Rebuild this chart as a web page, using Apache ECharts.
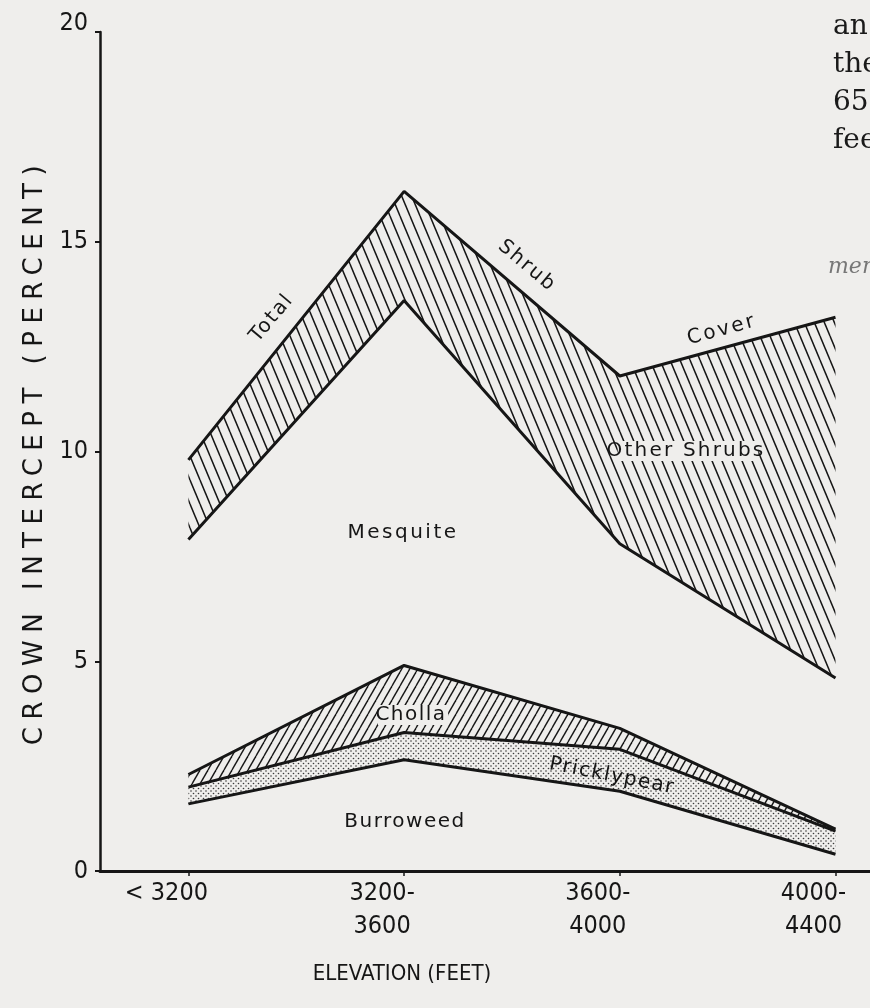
<!DOCTYPE html>
<html>
<head>
<meta charset="utf-8">
<script src="https://cdn.jsdelivr.net/npm/echarts@6/dist/echarts.min.js"></script>
<style>
  html, body { margin: 0; padding: 0; background: #efeeec; }
  #chart { width: 870px; height: 1008px; }
</style>
</head>
<body>
<div id="chart"></div>
<script>
// ---- data ----
const categories = ['< 3200', '3200-\n3600', '3600-\n4000', '4000-\n4400'];
const totalShrub = [9.8, 16.2, 11.8, 13.2];
const mesquite = [7.9, 13.6, 7.8, 4.6];
const cholla = [2.3, 4.9, 3.4, 1.0];
const pricklypear = [2.0, 3.3, 2.9, 0.95];
const burroweed = [1.6, 2.65, 1.9, 0.4];
const yTicks = [0, 5, 10, 15, 20];

const BG = '#efeeec';
const INK = '#161616';

// letter spacing for selected texts (canvas letterSpacing)
const SPACING = {
  'CROWN INTERCEPT (PERCENT)': 7.5,
  'Mesquite': 2.5,
  'Burroweed': 1.5,
  'Other Shrubs': 2.2,
  'Cholla': 1.5,
  'Pricklypear': 1.5,
  'Total': 2,
  'Shrub': 2,
  'Cover': 2.5
};
(function () {
  const proto = CanvasRenderingContext2D.prototype;
  const orig = proto.fillText;
  proto.fillText = function (t, x, y, m) {
    if ('letterSpacing' in this) {
      const s = SPACING[t] || 0;
      const f = this.font;
      this.letterSpacing = s + 'px';
      this.font = f;
      orig.apply(this, arguments);
      this.letterSpacing = '0px';
      this.font = f;
    } else {
      orig.apply(this, arguments);
    }
  };
})();

function hatch(w, h, dir, lw) {
  const c = document.createElement('canvas');
  c.width = w; c.height = h;
  const g = c.getContext('2d');
  g.fillStyle = BG; g.fillRect(0, 0, w, h);
  g.strokeStyle = INK; g.lineWidth = lw; g.lineCap = 'butt';
  for (const k of [-1, 0, 1]) {
    g.beginPath();
    if (dir === '\\') { g.moveTo(k * w, 0); g.lineTo(k * w + w, h); }
    else { g.moveTo(k * w, h); g.lineTo(k * w + w, 0); }
    g.stroke();
  }
  return c;
}
function dots() {
  const c = document.createElement('canvas');
  c.width = 5; c.height = 5;
  const g = c.getContext('2d');
  g.fillStyle = BG; g.fillRect(0, 0, 5, 5);
  g.fillStyle = '#3a3a3a';
  g.beginPath(); g.arc(1, 1, 0.8, 0, Math.PI * 2); g.fill();
  g.beginPath(); g.arc(3.5, 3.5, 0.8, 0, Math.PI * 2); g.fill();
  return c;
}

// value first, category index second, so that stacking applies to the y value
const pair = arr => arr.map((v, i) => [v, i]);
const diff = (a, b) => a.map((v, i) => v - b[i]);
const lineStyle = { color: INK, width: 3 };
function band(name, values, stack, fill) {
  return {
    name, type: 'line', data: pair(values), encode: { x: 1, y: 0 },
    symbol: 'none', silent: true, stack,
    lineStyle,
    areaStyle: fill ? { color: fill, opacity: 1 } : undefined
  };
}

const chart = echarts.init(document.getElementById('chart'), null, { renderer: 'canvas' });
const tickFont = "'Liberation Sans Narrow', 'DejaVu Sans Condensed', sans-serif";
const labelFont = "'DejaVu Sans', sans-serif";

function lbl(text, x, y, rot, size, bg) {
  return {
    type: 'text', x, y, rotation: rot * Math.PI / 180, z: 100,
    style: {
      text, fill: INK, font: `${size}px ${labelFont}`,
      align: 'center', verticalAlign: 'middle',
      backgroundColor: bg ? BG : undefined, padding: bg ? [0, 6, 0, 2] : 0
    }
  };
}
function pageText(text, x, y, italic, color) {
  return {
    type: 'text', x, y, z: 100,
    style: {
      text, fill: color, font: `${italic ? 'italic ' : ''}${italic ? 22 : 28}px 'DejaVu Serif', serif`,
      align: 'left', verticalAlign: 'alphabetic'
    }
  };
}

chart.setOption({
  backgroundColor: BG,
  animation: false,
  grid: { left: 100, right: 0, top: 32, bottom: 137, containLabel: false, outerBoundsMode: 'none' },
  xAxis: {
    type: 'value', min: -0.41, max: 3.16, z: 10,
    splitLine: { show: false },
    axisLine: { show: true, onZero: false, lineStyle: { color: INK, width: 3 } },
    axisTick: { show: true, customValues: [0, 1, 2, 3], length: 5, lineStyle: { color: INK, width: 1.5 } },
    axisLabel: {
      customValues: [0, 1, 2, 3], margin: 6, color: INK,
      fontFamily: tickFont, fontSize: 25, lineHeight: 33,
      padding: [0, 44, 0, 0], hideOverlap: false,
      formatter: v => categories[Math.round(v)]
    },
    name: 'ELEVATION (FEET)', nameLocation: 'middle', nameGap: 92,
    nameTextStyle: { fontFamily: tickFont, fontSize: 22, color: INK, padding: [0, 166, 0, 0] }
  },
  yAxis: {
    type: 'value', min: 0, max: 20, interval: 5, z: 10,
    splitLine: { show: false },
    axisLine: { show: true, onZero: false, lineStyle: { color: INK, width: 2.5 } },
    axisTick: { show: true, inside: false, length: 5, lineStyle: { color: INK, width: 2 } },
    axisLabel: {
      margin: 12, color: INK, fontFamily: tickFont, fontSize: 25,
      formatter: v => v === 20 ? '{t|20}' : String(v),
      rich: { t: { fontFamily: tickFont, fontSize: 25, color: INK, padding: [0, 0, 18, 0] } }
    },
    name: 'CROWN INTERCEPT (PERCENT)', nameLocation: 'middle', nameGap: 37, nameRotate: 90,
    nameTextStyle: { fontFamily: labelFont, fontSize: 26, color: INK }
  },
  series: [
    band('Mesquite', mesquite, 'shrub', null),
    band('Other Shrubs', diff(totalShrub, mesquite), 'shrub', { image: hatch(10, 24, '\\', 1.5), repeat: 'repeat' }),
    band('Burroweed', burroweed, 'low', null),
    band('Pricklypear', diff(pricklypear, burroweed), 'low', { image: dots(), repeat: 'repeat' }),
    band('Cholla', diff(cholla, pricklypear), 'low', { image: hatch(8, 14, '/', 1.4), repeat: 'repeat' })
  ],
  graphic: [
    lbl('Total', 272, 318, 50, 20, false),
    lbl('Shrub', 527, 266, -40, 20, false),
    lbl('Cover', 722, 330, 15, 20, false),
    lbl('Other Shrubs', 688, 451, 0, 20, true),
    lbl('Mesquite', 403, 533, 0, 20, false),
    lbl('Cholla', 413, 715, 0, 20, true),
    lbl('Pricklypear', 612, 776, -11, 20, false),
    lbl('Burroweed', 405, 822, 0, 20, false),
    pageText('an', 833, 13, false, '#1a1a1a'),
    pageText('the', 833, 51, false, '#1a1a1a'),
    pageText('65', 833, 89, false, '#1a1a1a'),
    pageText('fee', 833, 127, false, '#1a1a1a'),
    pageText('men', 828, 256, true, '#777')
  ]
});
</script>
</body>
</html>
